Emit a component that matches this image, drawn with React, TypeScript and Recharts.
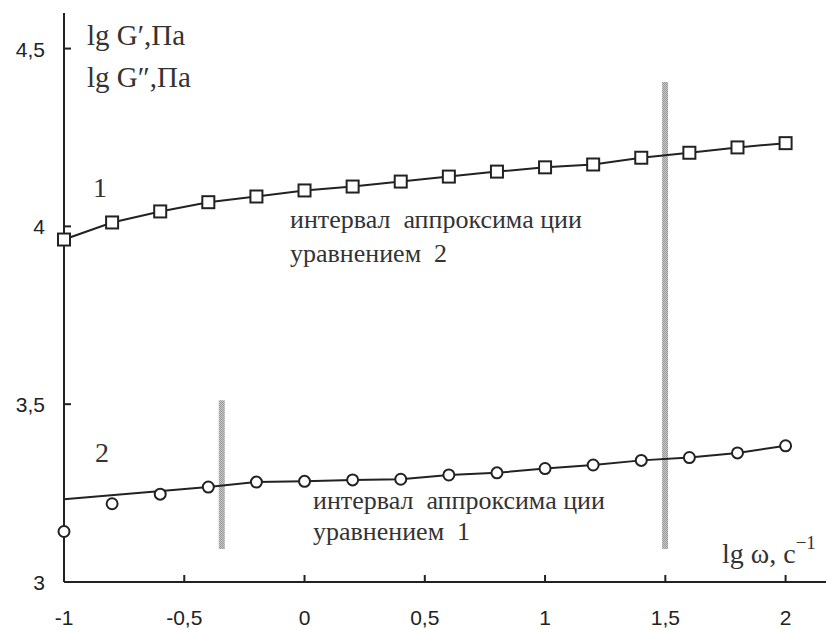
import { ComposedChart, Line, XAxis, YAxis, ReferenceArea } from 'recharts'

// lg ω, c^-1
const lgOmega = [-1, -0.8, -0.6, -0.4, -0.2, 0, 0.2, 0.4, 0.6, 0.8, 1, 1.2, 1.4, 1.6, 1.8, 2]
// curve 1: lg G'
const lgG1 = [3.963, 4.011, 4.042, 4.068, 4.084, 4.101, 4.112, 4.126, 4.14, 4.154, 4.166, 4.174, 4.193, 4.207, 4.222, 4.234]
// curve 2: lg G''
const lgG2 = [3.142, 3.22, 3.247, 3.267, 3.281, 3.283, 3.287, 3.289, 3.301, 3.307, 3.319, 3.329, 3.342, 3.35, 3.363, 3.383]
// approximation line for curve 2 (straight at the start, then through the points)
const fit2 = [3.233, null, null, 3.267, 3.281, 3.283, 3.287, 3.289, 3.301, 3.307, 3.319, 3.329, 3.342, 3.35, 3.363, 3.383]

const xTicks = [-1, -0.5, 0, 0.5, 1, 1.5, 2]
const yTicks = [3, 3.5, 4, 4.5]

// approximation interval borders: [x, yFrom, yTo]
const borders = [
  [-0.344, 3.093, 3.511],
  [1.499, 3.093, 4.406],
]

const data = lgOmega.map((x, i) => ({ x, g1: lgG1[i], g2: lgG2[i], fit2: fit2[i] }))

const INK = '#222'
const SERIF = '"Liberation Serif", "Times New Roman", serif'
const SANS = '"Liberation Sans", Arial, sans-serif'

const fmt = (v: number) => String(v).replace('.', ',')

function XTick(props: any) {
  const { x, y, payload } = props
  return (
    <g>
      <line x1={x} y1={y} x2={x} y2={y - 7} stroke={INK} strokeWidth={2} />
      <text x={x} y={y + 43} textAnchor="middle" fontFamily={SANS} fontSize={21} fill={INK}>
        {fmt(payload.value)}
      </text>
    </g>
  )
}

function YTick(props: any) {
  const { x, y, payload } = props
  return (
    <g>
      <line x1={x} y1={y} x2={x + 7} y2={y} stroke={INK} strokeWidth={2} />
      <text x={x - 19} y={y + 8} textAnchor="end" fontFamily={SANS} fontSize={21} fill={INK}>
        {fmt(payload.value)}
      </text>
    </g>
  )
}

function Square(props: any) {
  const { cx, cy } = props
  if (cx == null || cy == null) return null
  return <rect x={cx - 6} y={cy - 6} width={12} height={12} fill="#fff" stroke={INK} strokeWidth={2} />
}

function Circle(props: any) {
  const { cx, cy } = props
  if (cx == null || cy == null) return null
  return <circle cx={cx} cy={cy} r={5.5} fill="#fff" stroke={INK} strokeWidth={2} />
}

function Label({ x, y, size = 28, children }: any) {
  return (
    <text x={x} y={y} fontSize={size} fontFamily={SERIF} fill="#333" xmlSpace="preserve" style={{ whiteSpace: 'pre' }}>
      {children}
    </text>
  )
}

export default function App() {
  const gap = 5 / 240.5
  const half = 3 / 240.5
  return (
    <div style={{ position: 'absolute', left: 0, top: 0, width: 826, height: 630, background: '#fff' }}>
      <ComposedChart width={826} height={630} data={data} margin={{ top: 13, right: 0, left: 0, bottom: 0 }}>
        <defs>
          <pattern id="stipple" width="2" height="2" patternUnits="userSpaceOnUse">
            <rect width="2" height="2" fill="#c8c8c8" />
            <rect width="1" height="1" fill="#999" />
            <rect x="1" y="1" width="1" height="1" fill="#999" />
          </pattern>
        </defs>
        <XAxis
          dataKey="x"
          type="number"
          domain={[-1, 2.168]}
          ticks={xTicks}
          height={48}
          tickSize={0}
          tickMargin={0}
          tickLine={false}
          tick={<XTick />}
          axisLine={{ stroke: INK, strokeWidth: 2 }}
        />
        <YAxis
          type="number"
          domain={[3, 4.6]}
          ticks={yTicks}
          width={64}
          tickSize={0}
          tickMargin={0}
          tickLine={false}
          tick={<YTick />}
          axisLine={{ stroke: INK, strokeWidth: 2 }}
        />
        <Line dataKey="g1" stroke={INK} strokeWidth={2} dot={<Square />} isAnimationActive={false} />
        <Line dataKey="fit2" stroke={INK} strokeWidth={2} dot={false} connectNulls isAnimationActive={false} />
        {borders.map(([bx, y1, y2], i) => (
          <ReferenceArea key={'w' + i} x1={bx - gap} x2={bx + gap} y1={y1} y2={y2} fill="#fff" fillOpacity={1} stroke="none" />
        ))}
        {borders.map(([bx, y1, y2], i) => (
          <ReferenceArea key={'b' + i} x1={bx - half} x2={bx + half} y1={y1} y2={y2} fill="url(#stipple)" fillOpacity={1} stroke="none" />
        ))}
        <Line dataKey="g2" stroke="none" dot={<Circle />} isAnimationActive={false} />
      </ComposedChart>
      <svg width={826} height={630} style={{ position: 'absolute', left: 0, top: 0, pointerEvents: 'none' }}>
        <Label x={87} y={45} size={29}>lg G′,Па</Label>
        <Label x={87} y={87} size={29}>lg G″,Па</Label>
        <Label x={93} y={197}>1</Label>
        <Label x={95} y={462}>2</Label>
        <Label x={290} y={228} size={26}>интервал  аппроксима ции</Label>
        <Label x={290} y={262} size={26}>уравнением  2</Label>
        <Label x={313} y={509} size={26}>интервал  аппроксима ции</Label>
        <Label x={313} y={540} size={26}>уравнением  1</Label>
        <text x={722} y={563} fontSize={28} fontFamily={SERIF} fill="#333">
          lg ω, с<tspan dy={-14} fontSize={19}>−1</tspan>
        </text>
      </svg>
    </div>
  )
}
